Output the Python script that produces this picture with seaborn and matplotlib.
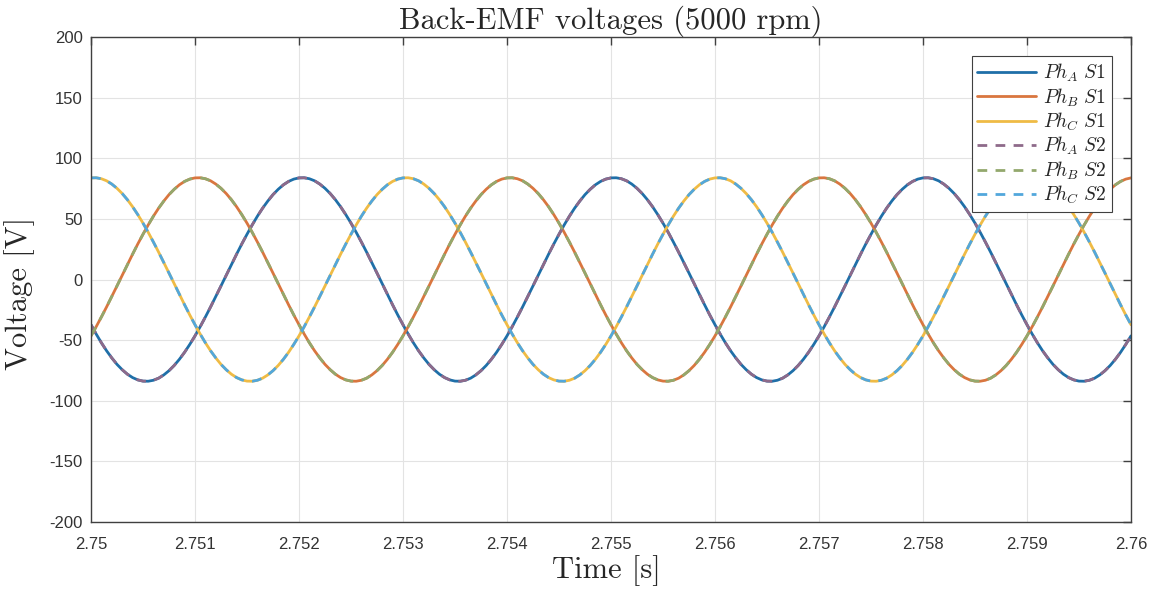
import numpy as np
import pandas as pd
import matplotlib
matplotlib.use("Agg")
import matplotlib.pyplot as plt
import seaborn as sns

time_start = 2.75
time_end = 2.76
n_samples = 201

ph_a_s1 = [
    -37.3, -45.0, -52.2, -58.8, -64.7, -70.0, -74.4, -78.1, -80.9, -82.8,
    -83.8, -83.9, -83.1, -81.4, -78.7, -75.2, -70.9, -65.8, -60.0, -53.5,
    -46.5, -38.9, -30.9, -22.6, -14.0, -5.3, 3.5, 12.3, 20.9, 29.3,
    37.3, 45.0, 52.2, 58.8, 64.7, 70.0, 74.4, 78.1, 80.9, 82.8,
    83.8, 83.9, 83.1, 81.4, 78.7, 75.2, 70.9, 65.8, 60.0, 53.5,
    46.5, 38.9, 30.9, 22.6, 14.0, 5.3, -3.5, -12.3, -20.9, -29.3,
    -37.3, -45.0, -52.2, -58.8, -64.7, -70.0, -74.4, -78.1, -80.9, -82.8,
    -83.8, -83.9, -83.1, -81.4, -78.7, -75.2, -70.9, -65.8, -60.0, -53.5,
    -46.5, -38.9, -30.9, -22.6, -14.0, -5.3, 3.5, 12.3, 20.9, 29.3,
    37.3, 45.0, 52.2, 58.8, 64.7, 70.0, 74.4, 78.1, 80.9, 82.8,
    83.8, 83.9, 83.1, 81.4, 78.7, 75.2, 70.9, 65.8, 60.0, 53.5,
    46.5, 38.9, 30.9, 22.6, 14.0, 5.3, -3.5, -12.3, -20.9, -29.3,
    -37.3, -45.0, -52.2, -58.8, -64.7, -70.0, -74.4, -78.1, -80.9, -82.8,
    -83.8, -83.9, -83.1, -81.4, -78.7, -75.2, -70.9, -65.8, -60.0, -53.5,
    -46.5, -38.9, -30.9, -22.6, -14.0, -5.3, 3.5, 12.3, 20.9, 29.3,
    37.3, 45.0, 52.2, 58.8, 64.7, 70.0, 74.4, 78.1, 80.9, 82.8,
    83.8, 83.9, 83.1, 81.4, 78.7, 75.2, 70.9, 65.8, 60.0, 53.5,
    46.5, 38.9, 30.9, 22.6, 14.0, 5.3, -3.5, -12.3, -20.9, -29.3,
    -37.3, -45.0, -52.2, -58.8, -64.7, -70.0, -74.4, -78.1, -80.9, -82.8,
    -83.8, -83.9, -83.1, -81.4, -78.7, -75.2, -70.9, -65.8, -60.0, -53.5,
    -46.5,
]
ph_b_s1 = [
    -46.5, -38.9, -30.9, -22.6, -14.0, -5.3, 3.5, 12.3, 20.9, 29.3,
    37.3, 45.0, 52.2, 58.8, 64.7, 70.0, 74.4, 78.1, 80.9, 82.8,
    83.8, 83.9, 83.1, 81.4, 78.7, 75.2, 70.9, 65.8, 60.0, 53.5,
    46.5, 38.9, 30.9, 22.6, 14.0, 5.3, -3.5, -12.3, -20.9, -29.3,
    -37.3, -45.0, -52.2, -58.8, -64.7, -70.0, -74.4, -78.1, -80.9, -82.8,
    -83.8, -83.9, -83.1, -81.4, -78.7, -75.2, -70.9, -65.8, -60.0, -53.5,
    -46.5, -38.9, -30.9, -22.6, -14.0, -5.3, 3.5, 12.3, 20.9, 29.3,
    37.3, 45.0, 52.2, 58.8, 64.7, 70.0, 74.4, 78.1, 80.9, 82.8,
    83.8, 83.9, 83.1, 81.4, 78.7, 75.2, 70.9, 65.8, 60.0, 53.5,
    46.5, 38.9, 30.9, 22.6, 14.0, 5.3, -3.5, -12.3, -20.9, -29.3,
    -37.3, -45.0, -52.2, -58.8, -64.7, -70.0, -74.4, -78.1, -80.9, -82.8,
    -83.8, -83.9, -83.1, -81.4, -78.7, -75.2, -70.9, -65.8, -60.0, -53.5,
    -46.5, -38.9, -30.9, -22.6, -14.0, -5.3, 3.5, 12.3, 20.9, 29.3,
    37.3, 45.0, 52.2, 58.8, 64.7, 70.0, 74.4, 78.1, 80.9, 82.8,
    83.8, 83.9, 83.1, 81.4, 78.7, 75.2, 70.9, 65.8, 60.0, 53.5,
    46.5, 38.9, 30.9, 22.6, 14.0, 5.3, -3.5, -12.3, -20.9, -29.3,
    -37.3, -45.0, -52.2, -58.8, -64.7, -70.0, -74.4, -78.1, -80.9, -82.8,
    -83.8, -83.9, -83.1, -81.4, -78.7, -75.2, -70.9, -65.8, -60.0, -53.5,
    -46.5, -38.9, -30.9, -22.6, -14.0, -5.3, 3.5, 12.3, 20.9, 29.3,
    37.3, 45.0, 52.2, 58.8, 64.7, 70.0, 74.4, 78.1, 80.9, 82.8,
    83.8,
]
ph_c_s1 = [
    83.8, 83.9, 83.1, 81.4, 78.7, 75.2, 70.9, 65.8, 60.0, 53.5,
    46.5, 38.9, 30.9, 22.6, 14.0, 5.3, -3.5, -12.3, -20.9, -29.3,
    -37.3, -45.0, -52.2, -58.8, -64.7, -70.0, -74.4, -78.1, -80.9, -82.8,
    -83.8, -83.9, -83.1, -81.4, -78.7, -75.2, -70.9, -65.8, -60.0, -53.5,
    -46.5, -38.9, -30.9, -22.6, -14.0, -5.3, 3.5, 12.3, 20.9, 29.3,
    37.3, 45.0, 52.2, 58.8, 64.7, 70.0, 74.4, 78.1, 80.9, 82.8,
    83.8, 83.9, 83.1, 81.4, 78.7, 75.2, 70.9, 65.8, 60.0, 53.5,
    46.5, 38.9, 30.9, 22.6, 14.0, 5.3, -3.5, -12.3, -20.9, -29.3,
    -37.3, -45.0, -52.2, -58.8, -64.7, -70.0, -74.4, -78.1, -80.9, -82.8,
    -83.8, -83.9, -83.1, -81.4, -78.7, -75.2, -70.9, -65.8, -60.0, -53.5,
    -46.5, -38.9, -30.9, -22.6, -14.0, -5.3, 3.5, 12.3, 20.9, 29.3,
    37.3, 45.0, 52.2, 58.8, 64.7, 70.0, 74.4, 78.1, 80.9, 82.8,
    83.8, 83.9, 83.1, 81.4, 78.7, 75.2, 70.9, 65.8, 60.0, 53.5,
    46.5, 38.9, 30.9, 22.6, 14.0, 5.3, -3.5, -12.3, -20.9, -29.3,
    -37.3, -45.0, -52.2, -58.8, -64.7, -70.0, -74.4, -78.1, -80.9, -82.8,
    -83.8, -83.9, -83.1, -81.4, -78.7, -75.2, -70.9, -65.8, -60.0, -53.5,
    -46.5, -38.9, -30.9, -22.6, -14.0, -5.3, 3.5, 12.3, 20.9, 29.3,
    37.3, 45.0, 52.2, 58.8, 64.7, 70.0, 74.4, 78.1, 80.9, 82.8,
    83.8, 83.9, 83.1, 81.4, 78.7, 75.2, 70.9, 65.8, 60.0, 53.5,
    46.5, 38.9, 30.9, 22.6, 14.0, 5.3, -3.5, -12.3, -20.9, -29.3,
    -37.3,
]
# las curvas S2 caen exactamente encima de las S1 en la imagen
ph_a_s2 = list(ph_a_s1)
ph_b_s2 = list(ph_b_s1)
ph_c_s2 = list(ph_c_s1)

series_labels = [
    r"$Ph_A\ S1$", r"$Ph_B\ S1$", r"$Ph_C\ S1$",
    r"$Ph_A\ S2$", r"$Ph_B\ S2$", r"$Ph_C\ S2$",
]
series_values = [ph_a_s1, ph_b_s1, ph_c_s1, ph_a_s2, ph_b_s2, ph_c_s2]

xtick_values = [2.75, 2.751, 2.752, 2.753, 2.754, 2.755, 2.756, 2.757, 2.758, 2.759, 2.76]
xtick_labels = ["2.75", "2.751", "2.752", "2.753", "2.754", "2.755",
                "2.756", "2.757", "2.758", "2.759", "2.76"]
ytick_values = [-200, -150, -100, -50, 0, 50, 100, 150, 200]

time = np.linspace(time_start, time_end, n_samples)
frames = []
for lab, vals in zip(series_labels, series_values):
    frames.append(pd.DataFrame({"time": time, "voltage": vals, "series": lab}))
df = pd.concat(frames, ignore_index=True)

colors = ["#1f6fa8", "#d9763f", "#efbb45", "#8e6a8a", "#93a86d", "#52a7dc"]
palette = dict(zip(series_labels, colors))
dashes = {lab: ("" if "S1" in lab else (3.5, 3)) for lab in series_labels}

sns.set_style("white")
plt.rcParams["font.family"] = ["Liberation Sans", "DejaVu Sans"]
plt.rcParams["mathtext.fontset"] = "cm"
plt.rcParams["axes.unicode_minus"] = False

fig = plt.figure(figsize=(11.61, 5.92), dpi=100)
ax = fig.add_axes([91 / 1161, 1 - 522 / 592, 1040 / 1161, 485 / 592])

sns.lineplot(data=df, x="time", y="voltage", hue="series", style="series",
             hue_order=series_labels, style_order=series_labels,
             palette=palette, dashes=dashes, linewidth=2.0, sort=False,
             estimator=None, ax=ax)

ax.set_xlim(time_start, time_end)
ax.set_ylim(-200, 200)
ax.set_xticks(xtick_values)
ax.set_xticklabels(xtick_labels)
ax.set_yticks(ytick_values)
ax.tick_params(direction="in", length=6, width=1, colors="#404040",
               labelcolor="#333333", labelsize=12, top=True, right=True)
ax.tick_params(axis="x", pad=11)
ax.tick_params(axis="y", pad=6)
ax.grid(True, color="#e3e3e3", linewidth=0.8)
for sp in ax.spines.values():
    sp.set_color("#404040")
    sp.set_linewidth(1.0)

ax.set_title("Back-EMF voltages (5000 rpm)", family="cmr10", fontsize=22, pad=6)
ax.set_xlabel("Time [s]", family="cmr10", fontsize=22)
ax.set_ylabel("Voltage [V]", family="cmr10", fontsize=22)
ax.xaxis.set_label_coords(0.4957, -0.068)
ax.yaxis.set_label_coords(-0.054, 0.472)

leg = ax.legend(loc="upper right", bbox_to_anchor=(0.9817, 0.9608), fontsize=14,
                handlelength=3.0, handletextpad=0.35, labelspacing=0.11,
                frameon=True, fancybox=False, framealpha=1, borderpad=0.3,
                borderaxespad=0)
leg.get_frame().set_edgecolor("#404040")
leg.get_frame().set_linewidth(0.8)

fig.savefig("out.png", dpi=100)
